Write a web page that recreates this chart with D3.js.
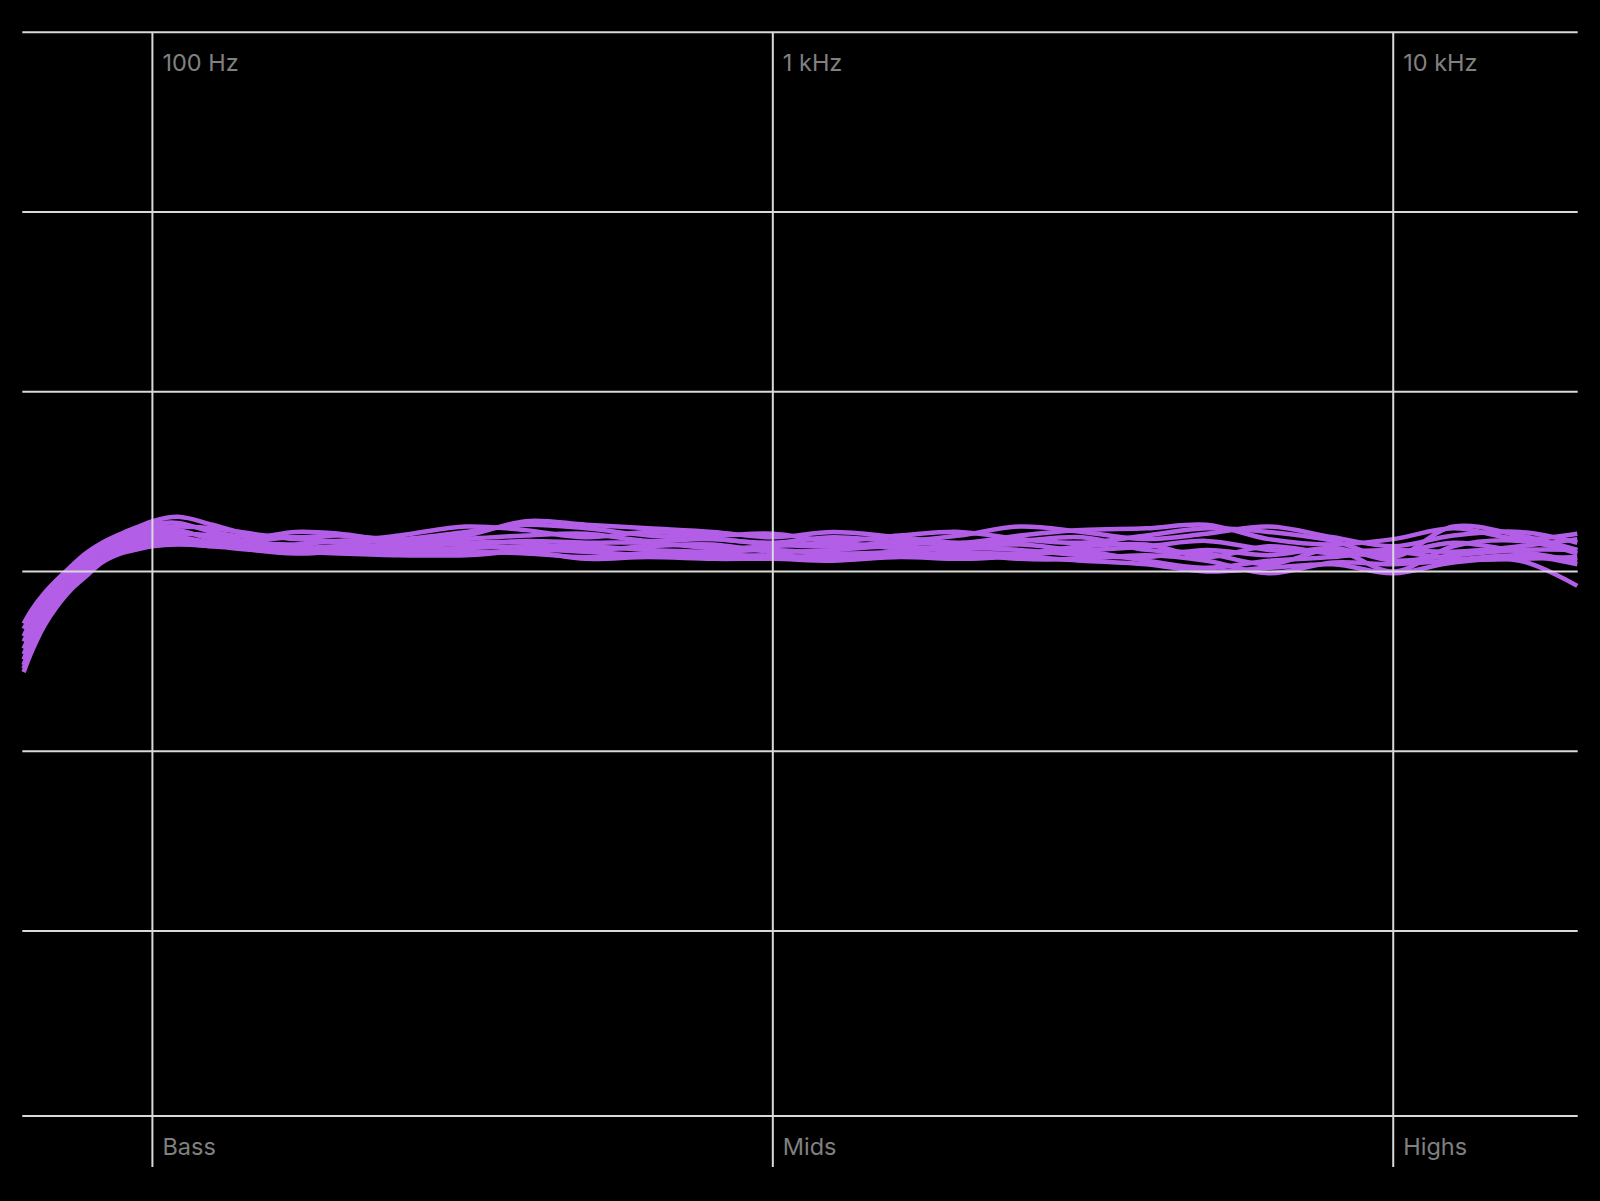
<!DOCTYPE html>
<html>
<head>
<meta charset="utf-8">
<script src="https://cdn.jsdelivr.net/npm/d3@7"></script>
<style>
    body { margin: 0; background: #000; }
    text { font-family: Inter, "Noto Sans", sans-serif; }
</style>
</head>
<body>
<div id="graph1"></div>
<script>

let width = 1600,
    height = 1201;

// frequency points (Hz) shared by every measurement
let freqs = [62, 64, 67, 70, 74, 78, 83, 89, 95, 100, 110, 125, 145, 170, 200, 250, 320, 400, 500, 630, 800,
    1000, 1250, 1600, 2000, 2500, 3150, 4000, 5000, 6300, 8000, 10000, 12500, 16000, 19800];

// response of each measurement in dB
let run1 = [-1.45, -1.05, -0.6, -0.25, 0.15, 0.5, 0.8, 1.05, 1.25, 1.4,
    1.52, 1.3, 1.0, 0.95, 1.0, 0.9, 1.1, 1.3, 1.2, 1.0, 0.9, 0.8, 0.95, 0.85, 1.0, 1.25, 1.1, 0.9, 1.05, 1.25, 0.95, 0.7, 1.0, 1.1, 0.8];
let run2 = [-1.6, -1.2, -0.72, -0.35, 0.05, 0.42, 0.72, 0.98, 1.15, 1.3,
    1.35, 1.1, 0.95, 1.1, 1.05, 0.85, 1.0, 1.4, 1.3, 1.2, 1.1, 0.95, 1.1, 0.95, 0.8, 1.0, 1.15, 1.2, 1.3, 0.9, 0.75, 0.9, 1.2, 0.9, 1.05];
let run3 = [-1.8, -1.35, -0.85, -0.45, -0.02, 0.33, 0.65, 0.9, 1.07, 1.2,
    1.25, 1.2, 1.05, 0.9, 0.85, 1.0, 1.25, 1.15, 0.95, 1.1, 1.0, 1.05, 0.85, 1.0, 1.1, 0.9, 0.8, 1.0, 1.2, 1.1, 0.85, 0.4, 1.25, 1.0, 0.6];
let run4 = [-1.95, -1.5, -0.95, -0.55, -0.1, 0.25, 0.58, 0.82, 1.0, 1.1,
    1.15, 0.9, 0.85, 0.95, 0.8, 0.7, 0.9, 1.0, 1.05, 0.85, 0.9, 0.75, 0.7, 0.8, 0.75, 0.85, 0.95, 0.6, 0.5, 0.2, 0.6, 0.0, 0.7, 0.85, 0.5];
let run5 = [-2.15, -1.65, -1.05, -0.65, -0.2, 0.15, 0.5, 0.75, 0.9, 1.0,
    1.05, 1.0, 0.8, 0.75, 0.85, 0.8, 0.75, 0.85, 0.8, 0.8, 0.65, 0.7, 0.8, 0.65, 0.7, 0.75, 0.6, 0.7, 0.85, 0.6, 0.55, 0.6, 0.55, 0.7, 0.9];
let run6 = [-2.3, -1.8, -1.15, -0.72, -0.28, 0.08, 0.42, 0.68, 0.82, 0.9,
    0.95, 0.8, 0.75, 0.65, 0.7, 0.65, 0.8, 0.8, 0.6, 0.7, 0.75, 0.55, 0.6, 0.7, 0.55, 0.5, 0.7, 0.75, 0.4, 0.7, 0.5, 0.5, 0.8, 0.55, 0.3];
let run7 = [-2.45, -1.9, -1.25, -0.8, -0.35, 0.02, 0.38, 0.62, 0.76, 0.85,
    0.85, 0.75, 0.65, 0.7, 0.6, 0.6, 0.65, 0.7, 0.7, 0.6, 0.55, 0.6, 0.5, 0.55, 0.65, 0.6, 0.45, 0.4, 0.6, 0.45, 0.65, 0.3, 0.45, 0.6, 0.6];
let run8 = [-2.6, -2.0, -1.35, -0.88, -0.42, -0.05, 0.32, 0.57, 0.7, 0.8,
    0.8, 0.7, 0.7, 0.55, 0.6, 0.55, 0.5, 0.6, 0.55, 0.45, 0.5, 0.4, 0.45, 0.5, 0.4, 0.45, 0.55, 0.3, 0.1, 0.3, 0.4, 0.55, 0.35, 0.45, 0.2];
let run9 = [-2.7, -2.1, -1.42, -0.95, -0.46, -0.1, 0.28, 0.53, 0.66, 0.75,
    0.8, 0.75, 0.6, 0.5, 0.55, 0.5, 0.55, 0.5, 0.4, 0.5, 0.4, 0.45, 0.35, 0.45, 0.5, 0.35, 0.35, 0.45, 0.3, -0.05, 0.25, 0.2, 0.3, 0.35, 0.4];
let run10 = [-2.8, -2.2, -1.5, -1.0, -0.5, -0.15, 0.25, 0.5, 0.62, 0.7,
    0.75, 0.7, 0.6, 0.55, 0.5, 0.45, 0.45, 0.55, 0.35, 0.4, 0.35, 0.35, 0.3, 0.4, 0.35, 0.4, 0.3, 0.2, 0.0, 0.1, 0.2, -0.05, 0.25, 0.3, -0.4];

let runs = [run1, run2, run3, run4, run5, run6, run7, run8, run9, run10];

// axis ticks and labels
let freqTicks = [100, 1000, 10000];
let topLabels = ["100 Hz", "1 kHz", "10 kHz"];
let bottomLabels = ["Bass", "Mids", "Highs"];
let dbTicks = [15, 10, 5, 0, -5, -10];
let dbMin = -15.15;

let svg = d3.select("#graph1")
    .append("svg")
    .attr("width", width)
    .attr("height", height)
    .style("background", "#000");

let x = d3.scaleLog()
    .domain([61.7, 19830])
    .range([22.3, 1577.7]);

let y = d3.scaleLinear()
    .domain([dbMin, 15])
    .range([1116, 32.3]);

let curves = svg.append("g");

let line = d3.line()
    .x(function (d, i) { return x(freqs[i]) })
    .y(function (d) { return y(d) })
    .curve(d3.curveCatmullRom.alpha(0.5));

curves.selectAll("path")
    .data(runs)
    .enter()
    .append("path")
    .attr("d", line)
    .attr("fill", "none")
    .attr("stroke", "#b35ee6")
    .attr("stroke-width", 4.5)
    .attr("stroke-linejoin", "round");

let grid = svg.append("g")
    .attr("stroke", "#d9d9d9")
    .attr("stroke-width", 2);

// horizontal grid, plus the bottom edge
grid.selectAll(".h")
    .data(dbTicks.concat([dbMin]))
    .enter()
    .append("line")
    .attr("x1", x.range()[0])
    .attr("x2", x.range()[1])
    .attr("y1", function (d) { return y(d) })
    .attr("y2", function (d) { return y(d) });

grid.selectAll(".v")
    .data(freqTicks)
    .enter()
    .append("line")
    .attr("x1", function (d) { return x(d) })
    .attr("x2", function (d) { return x(d) })
    .attr("y1", y(15))
    .attr("y2", 1167);

svg.append("g").selectAll("text")
    .data(freqTicks)
    .enter()
    .append("text")
    .attr("x", function (d) { return x(d) + 10 })
    .attr("y", 70.5)
    .style("font-size", "23.5px")
    .attr("fill", "#808080")
    .text(function (d, i) { return topLabels[i] });

svg.append("g").selectAll("text")
    .data(freqTicks)
    .enter()
    .append("text")
    .attr("x", function (d) { return x(d) + 10 })
    .attr("y", 1155)
    .style("font-size", "23.5px")
    .attr("fill", "#808080")
    .text(function (d, i) { return bottomLabels[i] });

</script>
</body>
</html>
